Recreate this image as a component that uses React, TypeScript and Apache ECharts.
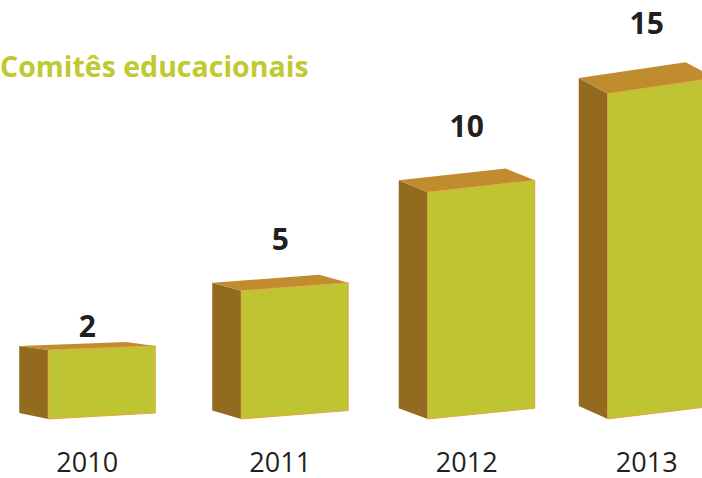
import React, { useEffect, useRef } from "react";
import * as echarts from "echarts";

const years = ["2010", "2011", "2012", "2013"];
const values = [2, 5, 10, 15];
const titleText = "Comitês educacionais";

const Y_BASE = -1.5;
const Y_MIN = -4.493;
const Y_MAX = 19.5;

const FRONT = "#bec432";
const LEFT = "#926b20";
const TOP = "#c18c2e";
const EDGE = "#e6a445";
const INK = "#231f20";
const FONT = "'Open Sans', 'Noto Sans', sans-serif";

export default function App() {
  const ref = useRef<HTMLDivElement>(null);
  useEffect(() => {
    if (!ref.current) return;
    const chart = echarts.init(ref.current, undefined, { renderer: "svg" });
    const renderItem = (params: any, api: any) => {
      const i = api.value(0);
      const v = api.value(1);
      const topPt = api.coord([i, v]);
      const basePt = api.coord([i, Y_BASE]);
      const first = api.coord([0, 0])[0];
      const last = api.coord([years.length - 1, 0])[0];
      // slight perspective spread of the bars toward the middle
      const cx = topPt[0] + 9.3e-5 * (topPt[0] - first) * (last - topPt[0]);
      const W = 107;
      const D = 29;
      const X = cx - 39;
      const Y = topPt[1];
      const B = basePt[1];
      const t = (0.037 + (X - 48) * 0.000196) * W;
      const tb = (0.056 + (X - 48) * 0.000118) * W;
      const lift = -13.7 + 11.14 * t - 0.366 * t * t;
      return {
        type: "group",
        children: [
          {
            type: "polygon",
            shape: { points: [[X - D, Y - t], [X, Y], [X, B], [X - D, B - tb]] },
            style: { fill: LEFT },
          },
          {
            type: "polygon",
            shape: { points: [[X - D, Y - t], [X + W - D, Y - 2 * t], [X + W, Y - t], [X, Y]] },
            style: { fill: TOP },
          },
          {
            type: "polygon",
            shape: { points: [[X, Y], [X + W, Y - t], [X + W, B - tb], [X, B]] },
            style: { fill: FRONT, stroke: EDGE, lineWidth: 1 },
          },
          {
            type: "text",
            style: {
              text: String(v),
              x: cx,
              y: Y - lift,
              fill: INK,
              fontSize: 30,
              lineHeight: 30,
              fontWeight: "bold",
              fontFamily: FONT,
              align: "center",
              verticalAlign: "middle",
            },
          },
          {
            type: "text",
            style: {
              text: years[i],
              x: cx,
              y: B + 43,
              fill: INK,
              fontSize: 27,
              lineHeight: 26,
              fontFamily: FONT,
              align: "center",
              verticalAlign: "middle",
            },
          },
        ],
      };
    };
    chart.setOption({
      animation: false,
      backgroundColor: "#ffffff",
      title: {
        text: titleText,
        left: 0,
        top: 51,
        padding: 0,
        textStyle: { color: "#c0c92f", fontSize: 28.5, fontWeight: "bold", fontFamily: FONT },
      },
      grid: { left: -6, right: -38, top: 5, bottom: 0, containLabel: false, outerBoundsMode: "none" },
      xAxis: {
        type: "category",
        data: years,
        axisLine: { show: false },
        axisTick: { show: false },
        axisLabel: { show: false },
      },
      yAxis: { type: "value", min: Y_MIN, max: Y_MAX, show: false, splitLine: { show: false } },
      series: [
        {
          type: "custom",
          renderItem,
          data: values.map((v, i) => [i, v]),
          clip: false,
        },
      ],
    });
    return () => chart.dispose();
  }, []);
  return (
    <div
      ref={ref}
      style={{ position: "fixed", left: 0, top: 0, width: 702, height: 478, background: "#fff" }}
    />
  );
}
